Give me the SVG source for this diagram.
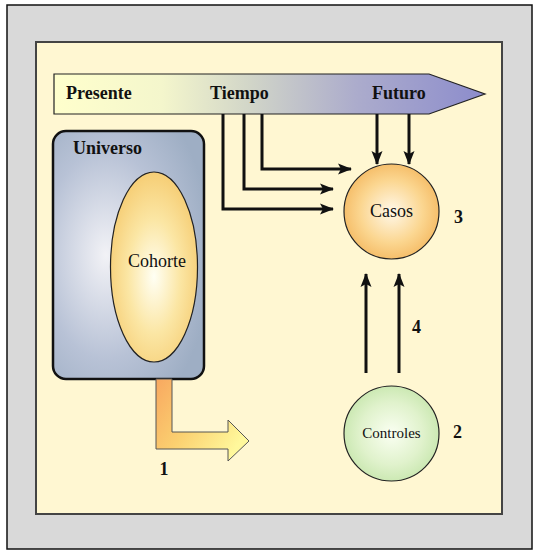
<svg xmlns="http://www.w3.org/2000/svg" width="539" height="555" viewBox="0 0 539 555">
<defs>
<style>
.lbl{font-family:"Liberation Serif","Times New Roman",serif;font-size:18px;fill:#111}
.b{font-weight:bold}
.conn{fill:none;stroke:#111;stroke-width:3}
</style>
<linearGradient id="gTime" x1="0" y1="0" x2="1" y2="0">
<stop offset="0" stop-color="#ffffcc"/>
<stop offset="0.25" stop-color="#f4f6cc"/>
<stop offset="0.45" stop-color="#d2d6c8"/>
<stop offset="0.7" stop-color="#acaccc"/>
<stop offset="1" stop-color="#8c8ccc"/>
</linearGradient>
<radialGradient id="gUni" cx="0.35" cy="0.5" r="0.7">
<stop offset="0" stop-color="#f2f2f6"/>
<stop offset="0.6" stop-color="#b8c2d6"/>
<stop offset="1" stop-color="#9eaec4"/>
</radialGradient>
<radialGradient id="gCoh" cx="0.5" cy="0.55" r="0.6">
<stop offset="0" stop-color="#fffff4"/>
<stop offset="0.5" stop-color="#fbe6a4"/>
<stop offset="1" stop-color="#f5c96c"/>
</radialGradient>
<radialGradient id="gCas" cx="0.5" cy="0.5" r="0.55">
<stop offset="0" stop-color="#fff8ea"/>
<stop offset="0.6" stop-color="#fbd690"/>
<stop offset="1" stop-color="#f4b860"/>
</radialGradient>
<radialGradient id="gCon" cx="0.5" cy="0.5" r="0.55">
<stop offset="0" stop-color="#fafff2"/>
<stop offset="0.6" stop-color="#e0f2cc"/>
<stop offset="1" stop-color="#c6e6ac"/>
</radialGradient>
<linearGradient id="gBent" x1="0" y1="0" x2="1" y2="0.6">
<stop offset="0" stop-color="#f8a860"/>
<stop offset="0.5" stop-color="#fbd070"/>
<stop offset="1" stop-color="#fff89c"/>
</linearGradient>
<marker id="ah" markerUnits="userSpaceOnUse" markerWidth="14" markerHeight="12" refX="13" refY="6" orient="auto">
<path d="M0,0.5 L14,6 L0,11.5 L3,6 z" fill="#111"/>
</marker>
</defs>

<rect x="7" y="5" width="525" height="544" fill="#d9d9d9" stroke="#111" stroke-width="1.5"/>
<rect x="36" y="42" width="466" height="472" fill="#fff7d2" stroke="#444" stroke-width="2"/>

<g id="tiempo">
<polygon points="54,74 429,74 485,94 429,114 54,114" fill="url(#gTime)" stroke="#222" stroke-width="1.2"/>
<text class="lbl b" x="66" y="99">Presente</text>
<text class="lbl b" x="210" y="99">Tiempo</text>
<text class="lbl b" x="372" y="99">Futuro</text>
</g>

<g id="universo">
<rect x="53" y="131" width="151" height="248" rx="13" fill="url(#gUni)" stroke="#111" stroke-width="2.5"/>
<text class="lbl b" x="73" y="154">Universo</text>
</g>

<g id="cohorte">
<ellipse cx="154" cy="267" rx="43.5" ry="95" fill="url(#gCoh)" stroke="#222" stroke-width="1.2"/>
<text class="lbl" x="157" y="267" text-anchor="middle">Cohorte</text>
</g>

<g id="flecha1">
<polygon points="156,379 172,379 172,432 228,432 228,420 249,441 228,461 228,449 156,449" fill="url(#gBent)" stroke="#555" stroke-width="1"/>
<text class="lbl b" x="164" y="475" text-anchor="middle">1</text>
</g>

<g id="casos">
<circle cx="391.5" cy="211.5" r="47.5" fill="url(#gCas)" stroke="#222" stroke-width="1.2"/>
<text class="lbl" x="391.5" y="217" text-anchor="middle">Casos</text>
<text class="lbl b" x="454" y="223">3</text>
</g>

<g id="controles">
<circle cx="391.5" cy="433.5" r="47.5" fill="url(#gCon)" stroke="#222" stroke-width="1.2"/>
<text class="lbl" x="391.5" y="438" text-anchor="middle" style="font-size:15px">Controles</text>
<text class="lbl b" x="453" y="438">2</text>
</g>

<g id="conectores">
<polyline class="conn" points="223,114 223,209 333,209" marker-end="url(#ah)"/>
<polyline class="conn" points="244,114 244,189 333,189" marker-end="url(#ah)"/>
<polyline class="conn" points="262,114 262,169 351,169" marker-end="url(#ah)"/>
<line class="conn" x1="377" y1="114" x2="377" y2="164" marker-end="url(#ah)"/>
<line class="conn" x1="409" y1="114" x2="409" y2="164" marker-end="url(#ah)"/>
<line class="conn" x1="366" y1="373" x2="366" y2="274" marker-end="url(#ah)"/>
<line class="conn" x1="399" y1="373" x2="399" y2="274" marker-end="url(#ah)"/>
<text class="lbl b" x="412" y="333">4</text>
</g>
</svg>
